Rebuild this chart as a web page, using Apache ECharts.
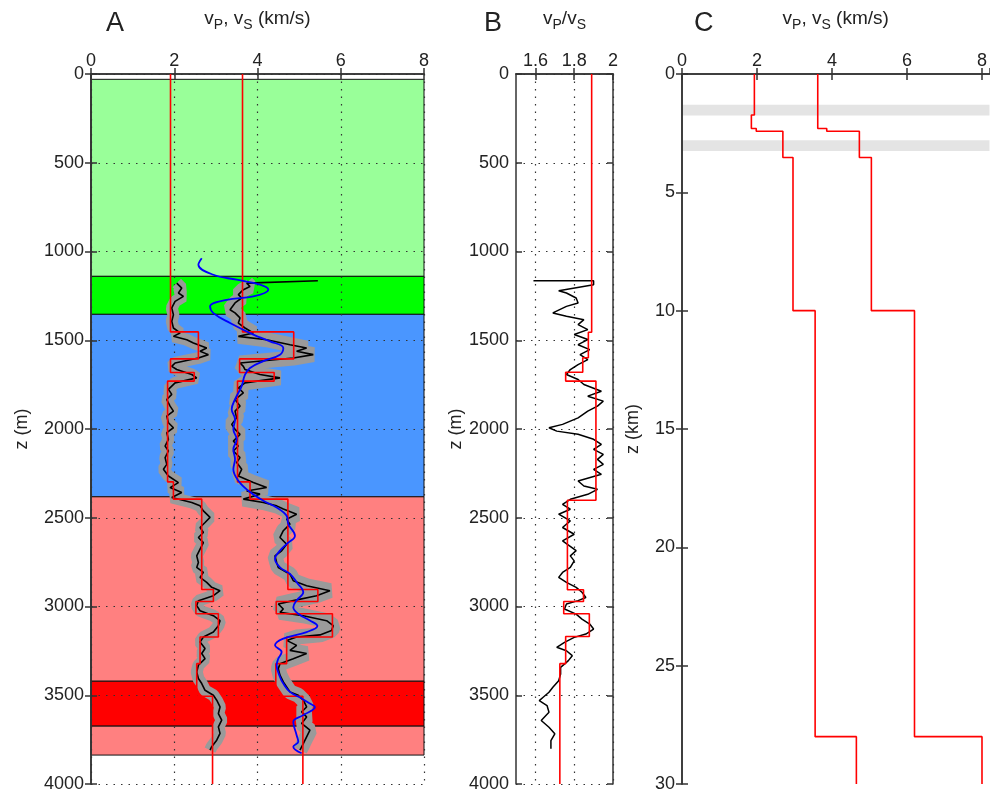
<!DOCTYPE html>
<html><head><meta charset="utf-8">
<script src="https://cdn.jsdelivr.net/npm/echarts@6/dist/echarts.min.js"></script>
<style>html,body{margin:0;padding:0;background:#fff}#c{width:990px;height:794px}</style>
</head><body><div id="c"></div>
<script>
// ---------- Panel A : background layers (depth m) ----------
const bandTop    = [30, 1140, 1354, 2382, 3421, 3674];
const bandBottom = [1140, 1354, 2382, 3421, 3674, 3837];
const bandColors = ['#99ff99', '#00ff00', '#4a96ff', '#ff8080', '#ff0000', '#ff8080'];

// ---------- Panel A : layered model (red) ----------
const modelDepthA = [0, 1453, 1605, 1682, 1730, 2298, 2395, 2904, 2972, 3041, 3172, 3322, 3506, 4000];
const modelVsA    = [1.91, 2.58, 1.91, 2.48, 1.84, 1.98, 2.66, 2.94, 2.52, 3.06, 2.62, 2.54, 2.92];
const modelVpA    = [3.64, 4.87, 3.57, 4.40, 3.52, 3.82, 4.73, 5.45, 4.45, 5.80, 4.70, 4.44, 5.09];

// ---------- Panel A : well logs (black) ----------
const vsLogDepth = [1178,1206,1234,1253,1281,1318,1356,1393,1431,1459,1478,1497,1515,1544,1562,1581,1600,1628,1647,1665,1693,1712,1740,1777,1805,1834,1871,1899,1927,1965,1993,2021,2058,2096,2124,2161,2199,2227,2265,2302,2330,2358,2386,2414,2433,2461,2498,2527,2555,2583,2611,2640,2677,2715,2752,2780,2808,2836,2864,2892,2911,2939,2967,2995,3024,3052,3080,3108,3144,3172,3200,3237,3265,3294,3331,3369,3406,3434,3472,3500,3528,3566,3603,3640,3678,3715,3753,3790,3809];
const vsLogVal   = [2.06,2.18,2.10,2.22,2.02,1.94,1.98,1.94,1.98,2.14,1.98,2.30,2.46,2.78,2.62,2.82,2.58,2.02,1.94,2.06,2.42,2.54,2.02,1.86,1.94,1.82,1.90,1.98,1.82,1.86,1.98,1.82,1.86,1.78,1.86,1.78,1.82,1.74,1.86,2.10,1.90,2.18,1.94,2.42,2.62,2.70,2.86,2.74,2.62,2.70,2.58,2.70,2.62,2.54,2.58,2.54,2.70,2.62,2.78,2.90,3.10,2.94,2.58,2.54,2.62,2.94,3.10,3.06,2.94,2.70,2.62,2.74,2.66,2.74,2.58,2.54,2.58,2.66,2.74,2.94,3.02,3.10,3.06,3.14,3.06,3.10,3.02,2.90,2.86];
const vpLogDepth = [1165,1178,1197,1215,1243,1262,1290,1328,1346,1374,1403,1431,1459,1478,1497,1525,1544,1562,1581,1600,1628,1647,1665,1693,1712,1740,1768,1796,1834,1871,1899,1937,1974,2002,2030,2068,2096,2124,2161,2189,2227,2265,2302,2330,2349,2367,2395,2414,2433,2451,2480,2508,2536,2573,2611,2649,2686,2715,2752,2780,2818,2855,2883,2911,2939,2967,2986,3014,3033,3052,3080,3108,3135,3160,3172,3191,3219,3247,3265,3294,3322,3350,3387,3425,3453,3481,3500,3528,3566,3594,3622,3659,3697,3734,3772,3809];
const vpLogVal   = [5.45,3.74,3.82,3.66,3.54,3.62,3.46,3.34,3.46,3.58,3.54,3.70,3.90,3.54,4.22,4.78,5.18,4.94,5.34,4.86,3.58,3.66,3.70,4.06,4.54,3.70,3.54,3.66,3.46,3.58,3.46,3.50,3.38,3.46,3.58,3.42,3.54,3.42,3.58,3.50,3.62,3.54,3.90,4.22,3.74,4.06,3.66,4.14,4.46,4.62,4.94,4.70,4.78,4.62,4.54,4.70,4.58,4.42,4.46,4.50,4.78,4.86,5.18,5.74,5.42,4.86,4.50,4.62,4.54,5.10,5.66,5.82,5.78,5.50,4.94,4.70,4.94,4.78,5.18,4.86,4.54,4.50,4.54,4.62,4.70,4.78,4.98,5.10,5.18,5.06,5.18,5.06,5.26,5.18,5.10,5.02];

// ---------- Panel A : smoothed vP (blue) ----------
const blueDepth = [1038,1075,1131,1159,1187,1215,1253,1272,1309,1347,1403,1468,1506,1543,1581,1618,1656,1693,1758,1833,1889,1945,2002,2058,2114,2170,2227,2292,2348,2404,2442,2489,2536,2601,2648,2685,2732,2779,2816,2863,2920,2966,3004,3041,3079,3110,3144,3181,3219,3256,3294,3331,3397,3434,3481,3518,3547,3566,3612,3650,3725,3762,3790,3827];
const blueVal   = [2.66,2.58,2.94,3.50,4.06,4.26,3.90,3.26,2.86,2.94,3.34,3.90,4.30,4.62,4.54,4.14,3.82,3.70,3.62,3.46,3.38,3.46,3.42,3.50,3.42,3.46,3.42,3.54,3.78,4.14,4.46,4.70,4.74,4.90,4.70,4.54,4.42,4.54,4.78,4.94,5.10,4.94,4.86,4.98,5.26,5.44,5.18,4.62,4.42,4.58,4.50,4.46,4.54,4.62,4.78,5.06,5.26,5.38,5.10,4.86,4.94,4.98,4.86,5.06];

// ---------- Panel B : vP/vS ----------
const ratioModelDepth = [0, 1455, 1599, 1680, 1730, 2401, 2906, 2972, 3041, 3169, 3322, 4000];
const ratioModelVal   = [1.89, 1.873, 1.844, 1.756, 1.912, 1.765, 1.848, 1.746, 1.878, 1.756, 1.726];
const ratioLogDepth = [1165,1165,1187,1221,1234,1262,1290,1309,1346,1365,1384,1412,1440,1468,1496,1525,1553,1581,1609,1637,1665,1693,1721,1749,1787,1815,1843,1871,1899,1937,1974,1993,2012,2030,2058,2087,2115,2143,2171,2199,2227,2255,2293,2321,2340,2368,2396,2424,2452,2480,2518,2555,2593,2630,2685,2715,2743,2780,2808,2836,2864,2892,2920,2949,2967,2986,3014,3043,3071,3099,3127,3155,3174,3202,3230,3249,3277,3305,3343,3380,3418,3455,3483,3511,3530,3558,3596,3642,3680,3717,3755,3802];
const ratioLogVal   = [1.59,1.90,1.90,1.72,1.76,1.81,1.82,1.76,1.69,1.76,1.85,1.82,1.87,1.80,1.87,1.82,1.88,1.83,1.87,1.82,1.78,1.76,1.82,1.85,1.94,1.87,1.95,1.92,1.87,1.82,1.74,1.67,1.71,1.82,1.90,1.94,1.90,1.95,1.92,1.95,1.90,1.94,1.82,1.85,1.92,1.87,1.78,1.74,1.78,1.72,1.78,1.74,1.80,1.74,1.81,1.78,1.80,1.78,1.74,1.72,1.76,1.81,1.84,1.86,1.82,1.76,1.75,1.81,1.84,1.88,1.90,1.86,1.80,1.75,1.71,1.76,1.79,1.77,1.73,1.73,1.72,1.69,1.67,1.64,1.62,1.66,1.67,1.63,1.67,1.70,1.68,1.68];
const ratioTicks = [1.6, 1.8, 2];

// ---------- Panel C : crustal model (km) ----------
const modelDepthC = [0, 1.73, 2.3, 2.42, 3.53, 10, 28, 30];
const modelVsC    = [1.93, 1.85, 1.98, 2.69, 2.96, 3.55, 4.65];
const modelVpC    = [3.62, 3.62, 3.86, 4.73, 5.05, 6.2, 8.0];
const greyTopC    = [1.3, 2.8];
const greyBottomC = [1.75, 3.25];

// ---------- helpers ----------
function steps(depths, vals) {
  const pts = [];
  vals.forEach((v, i) => { pts.push([v, depths[i]]); pts.push([v, depths[i + 1]]); });
  return pts;
}
function pairs(depths, vals) { return depths.map((d, i) => [vals[i], d]); }

const FONT = 'Liberation Sans, Arial, sans-serif';
const TXT = '#222';
const LS = 18;
const LINE = { color: '#333', width: 1.5 };
const DOT = { show: true, lineStyle: { color: '#333', width: 1.2, type: [1.5, 6] } };
const plain = v => String(v);

function xTop(grid, min, max, interval, name, extra) {
  return Object.assign({
    type: 'value', gridIndex: grid, position: 'top', min, max, interval, z: 3,
    name, nameLocation: 'middle', nameGap: 42,
    nameTextStyle: { fontSize: 19, color: TXT, fontFamily: FONT, lineHeight: 27,
      rich: { s: { fontSize: 14, color: TXT, fontFamily: FONT, verticalAlign: 'bottom' } } },
    axisLine: { show: true, lineStyle: LINE },
    axisTick: { show: true, inside: true, length: 6, lineStyle: LINE },
    axisLabel: { color: TXT, fontSize: LS, fontFamily: FONT, margin: 4, formatter: plain },
    splitLine: { show: false }
  }, extra || {});
}
function xBot(grid, min, max, interval, extra) {
  return Object.assign({
    type: 'value', gridIndex: grid, position: 'bottom', min, max, interval, z: 3,
    axisLine: { show: true, lineStyle: LINE },
    axisTick: { show: true, inside: true, length: 6, lineStyle: LINE },
    axisLabel: { show: false }, splitLine: { show: false }
  }, extra || {});
}
function yLeft(grid, max, interval, name, gap, extra) {
  return Object.assign({
    type: 'value', gridIndex: grid, position: 'left', min: 0, max, interval, inverse: true, z: 3,
    name, nameLocation: 'middle', nameGap: gap, nameRotate: 90,
    nameTextStyle: { fontSize: 18, color: TXT, fontFamily: FONT },
    axisLine: { show: true, lineStyle: LINE },
    axisTick: { show: true, inside: true, length: 6, lineStyle: LINE },
    axisLabel: { color: TXT, fontSize: LS, fontFamily: FONT, margin: 7, formatter: plain },
    splitLine: { show: false }
  }, extra || {});
}
function yRight(grid, max, interval) {
  return {
    type: 'value', gridIndex: grid, position: 'right', min: 0, max, interval, inverse: true, z: 3,
    axisLine: { show: true, lineStyle: LINE },
    axisTick: { show: true, inside: true, length: 6, lineStyle: LINE },
    axisLabel: { show: false }, splitLine: { show: false }
  };
}

const chart = echarts.init(document.getElementById('c'), null, { renderer: 'canvas' });

const option = {
  animation: false,
  backgroundColor: '#fff',
  textStyle: { fontFamily: FONT },
  graphic: [
    { type: 'text', left: 106, top: 10, style: { text: 'A', fontSize: 27, fill: TXT, fontFamily: FONT } },
    { type: 'text', left: 484, top: 10, style: { text: 'B', fontSize: 27, fill: TXT, fontFamily: FONT } },
    { type: 'text', left: 694, top: 10, style: { text: 'C', fontSize: 27, fill: TXT, fontFamily: FONT } }
  ],
  grid: [
    { left: 91, top: 72, width: 333, height: 712 },
    { left: 516, top: 72, width: 97, height: 712 },
    { left: 682, top: 72, width: 310.4, height: 712 }
  ],
  xAxis: [
    xTop(0, 0, 8, 2, 'v{s|P}, v{s|S} (km/s)', { splitLine: DOT }),
    xBot(0, 0, 8, 2),
    xTop(1, 1.5, 2, 0.1, 'v{s|P}/v{s|S}', {
      splitLine: DOT,
      axisTick: { show: true, inside: true, length: 6, lineStyle: LINE, customValues: ratioTicks },
      axisLabel: { color: TXT, fontSize: LS, fontFamily: FONT, margin: 4, customValues: ratioTicks, formatter: plain }
    }),
    xBot(1, 1.5, 2, 0.1, { axisTick: { show: true, inside: true, length: 6, lineStyle: LINE, customValues: [1.6, 1.8] } }),
    xTop(2, 0, 8.2, 2, 'v{s|P}, v{s|S} (km/s)', {
      axisLabel: { color: TXT, fontSize: LS, fontFamily: FONT, margin: 4, showMaxLabel: false, formatter: plain }
    }),
    xBot(2, 0, 8.2, 2)
  ],
  yAxis: [
    yLeft(0, 4000, 500, 'z (m)', 60, { splitLine: DOT }),
    yRight(0, 4000, 500),
    yLeft(1, 4000, 500, 'z (m)', 34, { splitLine: DOT }),
    yRight(1, 4000, 500),
    yLeft(2, 30, 5, 'z (km)', 40),
    yRight(2, 30, 5)
  ],
  series: [
    {
      type: 'custom', xAxisIndex: 0, yAxisIndex: 0, z: 1, silent: true,
      data: bandTop.map((t, i) => [t, bandBottom[i]]),
      encode: { x: [], y: [0, 1] },
      renderItem: (params, api) => {
        const p0 = api.coord([0, api.value(0)]);
        const p1 = api.coord([8, api.value(1)]);
        return { type: 'rect', shape: { x: p0[0], y: p0[1], width: p1[0] - p0[0], height: p1[1] - p0[1] },
          style: { fill: bandColors[params.dataIndex], stroke: '#111', lineWidth: 1 } };
      }
    },
    {
      type: 'custom', xAxisIndex: 4, yAxisIndex: 4, z: 1, silent: true,
      data: greyTopC.map((t, i) => [t, greyBottomC[i]]),
      encode: { x: [], y: [0, 1] },
      renderItem: (params, api) => {
        const p0 = api.coord([0, api.value(0)]);
        const p1 = api.coord([8.2, api.value(1)]);
        return { type: 'rect', shape: { x: p0[0], y: p0[1], width: p1[0] - p0[0], height: p1[1] - p0[1] },
          style: { fill: '#e4e4e4' } };
      }
    },
    // grey raw envelope (drawn under the black logs, without the top spike)
    { type: 'line', xAxisIndex: 0, yAxisIndex: 0, z: 4, symbol: 'none', data: pairs(vsLogDepth, vsLogVal), lineStyle: { color: '#9a9a9a', width: 12 } },
    { type: 'line', xAxisIndex: 0, yAxisIndex: 0, z: 4, symbol: 'none', data: pairs(vpLogDepth, vpLogVal).slice(1), lineStyle: { color: '#9a9a9a', width: 15 } },
    // black logs
    { type: 'line', xAxisIndex: 0, yAxisIndex: 0, z: 5, symbol: 'none', data: pairs(vsLogDepth, vsLogVal), lineStyle: { color: '#000', width: 1.6 } },
    { type: 'line', xAxisIndex: 0, yAxisIndex: 0, z: 5, symbol: 'none', data: pairs(vpLogDepth, vpLogVal), lineStyle: { color: '#000', width: 1.6 } },
    // red models A
    { type: 'line', xAxisIndex: 0, yAxisIndex: 0, z: 6, symbol: 'none', data: steps(modelDepthA, modelVsA), lineStyle: { color: '#ff0000', width: 1.6 } },
    { type: 'line', xAxisIndex: 0, yAxisIndex: 0, z: 6, symbol: 'none', data: steps(modelDepthA, modelVpA), lineStyle: { color: '#ff0000', width: 1.6 } },
    // blue smooth
    { type: 'line', xAxisIndex: 0, yAxisIndex: 0, z: 7, symbol: 'none', smooth: 0.4, data: pairs(blueDepth, blueVal), lineStyle: { color: '#0000ff', width: 1.8 } },
    // panel B
    { type: 'line', xAxisIndex: 2, yAxisIndex: 2, z: 5, symbol: 'none', data: pairs(ratioLogDepth, ratioLogVal), lineStyle: { color: '#000', width: 1.5 } },
    { type: 'line', xAxisIndex: 2, yAxisIndex: 2, z: 6, symbol: 'none', data: steps(ratioModelDepth, ratioModelVal), lineStyle: { color: '#ff0000', width: 1.6 } },
    // panel C
    { type: 'line', xAxisIndex: 4, yAxisIndex: 4, z: 6, symbol: 'none', data: steps(modelDepthC, modelVsC), lineStyle: { color: '#ff0000', width: 1.6 } },
    { type: 'line', xAxisIndex: 4, yAxisIndex: 4, z: 6, symbol: 'none', data: steps(modelDepthC, modelVpC), lineStyle: { color: '#ff0000', width: 1.6 } }
  ]
};
chart.setOption(option);
</script></body></html>
